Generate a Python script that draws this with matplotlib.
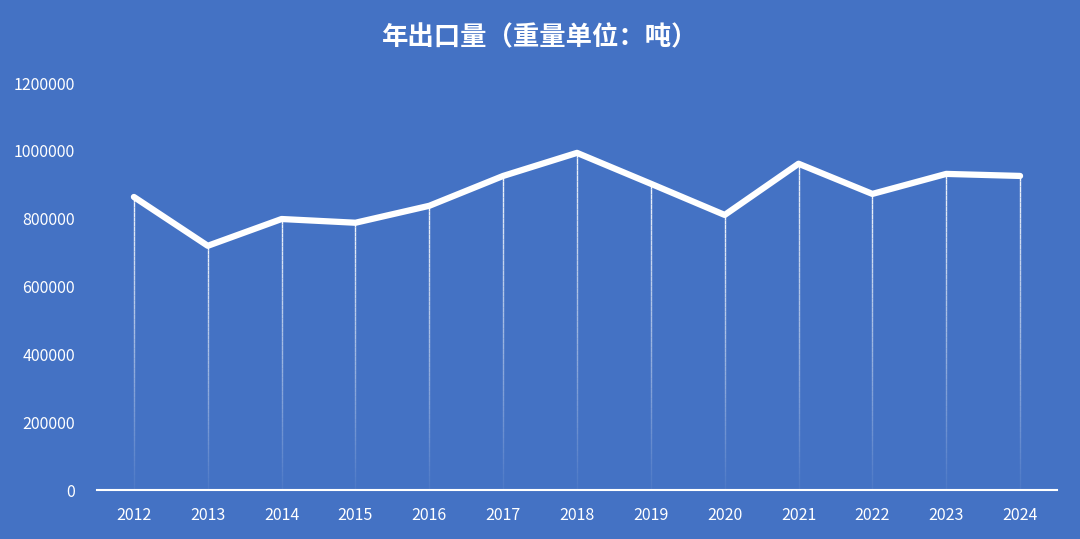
import matplotlib
matplotlib.use("Agg")
import matplotlib.pyplot as plt
import numpy as np

plt.rcParams['font.family'] = ['Noto Sans CJK SC', 'DejaVu Sans']

years = ['2012','2013','2014','2015','2016','2017','2018','2019','2020','2021','2022','2023','2024']
values = [864000, 720000, 799000, 788000, 838000, 926000, 994000, 903000, 811000, 962000, 873000, 932000, 926000]
yticks = [0, 200000, 400000, 600000, 800000, 1000000, 1200000]

bg = '#4472C4'
fig = plt.figure(figsize=(10.8, 5.39), dpi=100, facecolor=bg)
ax = fig.add_axes([0.0898, 0.0909, 0.8889, 0.7551], facecolor=bg)
x = np.arange(len(years))

# fading drop lines
n = 60
for xi, v in zip(x, values):
    edges = np.linspace(0, v, n + 1)
    for k in range(n):
        a = 0.05 + 0.9 * (k / n)
        ax.plot([xi, xi], [edges[k], edges[k + 1]], color='white', alpha=a, lw=1, solid_capstyle='butt', zorder=2)

ax.plot(x, values, color='white', lw=4.5, solid_capstyle='round', solid_joinstyle='round', zorder=3)

ax.set_xlim(-0.5, len(years) - 0.5)
ax.set_ylim(0, 1200000)
ax.set_xticks(x)
ax.set_xticklabels(years)
ax.set_yticks(yticks)
ax.set_yticklabels([str(t) for t in yticks])
ax.tick_params(axis='both', length=0, colors='white', labelsize=11.5)
ax.tick_params(axis='x', pad=12)
ax.tick_params(axis='y', pad=16)
for s in ['top', 'right', 'left']:
    ax.spines[s].set_visible(False)
ax.spines['bottom'].set_color('white')
ax.spines['bottom'].set_linewidth(1.5)

fig.text(0.5, 0.93, '年出口量（重量单位：吨）', ha='center', va='center', color='white', fontsize=19, fontweight='bold')

fig.savefig('out.png', facecolor=bg)
